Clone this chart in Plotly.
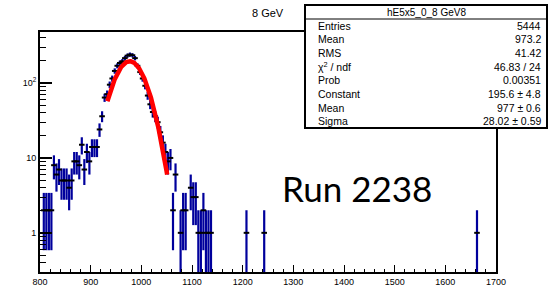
import numpy as np
import plotly.graph_objects as go

# ---- histogram data (bin centres, counts) ----
bin_centers = [807.5, 812.5, 817.5, 822.5, 827.5, 832.5, 837.5, 842.5, 847.5, 852.5,
               857.5, 862.5, 867.5, 872.5, 877.5, 882.5, 887.5, 892.5, 897.5, 902.5,
               907.5, 912.5, 917.5, 922.5, 927.5, 932.5, 937.5, 942.5, 947.5, 952.5,
               957.5, 962.5, 967.5, 972.5, 977.5, 982.5, 987.5, 992.5, 997.5, 1002.5,
               1007.5, 1012.5, 1017.5, 1022.5, 1027.5, 1032.5, 1037.5, 1042.5, 1047.5, 1052.5,
               1057.5, 1062.5, 1067.5, 1077.5, 1082.5, 1087.5, 1097.5, 1102.5, 1107.5, 1112.5,
               1117.5, 1122.5, 1127.5, 1132.5, 1137.5, 1207.5, 1242.5, 1662.5]
counts = [2, 2, 2, 2, 8, 6, 7, 5, 5, 5,
          4, 5, 9, 9, 8, 15, 7, 12, 9, 14,
          14, 14, 24, 36, 64, 71, 95, 115, 145, 170,
          185, 195, 215, 232, 240, 235, 215, 170, 140, 115,
          92, 68, 52, 41, 36, 30, 22, 16, 12, 9,
          10, 2, 6, 1, 2, 2, 4, 3, 3, 1,
          1, 2, 1, 1, 1, 1, 1, 1]

# ---- Gaussian fit parameters (from stats box) ----
fit_const = 195.6
fit_mean = 977.0
fit_sigma = 28.02
fit_range = [933, 1051]

stats_title = "hE5x5_0_8 GeV8"
stats_labels = ["Entries", "Mean", "RMS", "\u03c7<sup>2</sup> / ndf", "Prob", "Constant", "Mean", "Sigma"]
stats_values = ["5444", "973.2", "41.42", "46.83 / 24", "0.00351", "195.6 \u00b1 4.8", "977 \u00b1 0.6", "28.02 \u00b1 0.59"]

x_ticks = [800, 900, 1000, 1100, 1200, 1300, 1400, 1500, 1600, 1700]
y_ticks = [1, 10, 100]
y_ticktext = ["1", "10", "10<sup>2</sup>"]
y_minor = [0.3, 0.4, 0.5, 0.6, 0.7, 0.8, 0.9, 2, 3, 4, 5, 6, 7, 8, 9,
           20, 30, 40, 50, 60, 70, 80, 90, 200, 300, 400]

cnt = np.array(counts, dtype=float)
err = np.sqrt(cnt)
err_lo = np.minimum(err, cnt - 1e-4)

fig = go.Figure()
fig.add_trace(go.Scatter(
    x=bin_centers, y=counts, mode="markers",
    marker=dict(symbol="line-ew", size=4, color="black", line=dict(width=2, color="black")),
    error_y=dict(type="data", symmetric=False, array=err, arrayminus=err_lo,
                 color="#00009c", thickness=2.2, width=0),
    showlegend=False, hoverinfo="skip"))

xf = np.linspace(fit_range[0], fit_range[1], 200)
yf = fit_const * np.exp(-0.5 * ((xf - fit_mean) / fit_sigma) ** 2)
fig.add_trace(go.Scatter(x=xf, y=yf, mode="lines", line=dict(color="#ff0000", width=4.5),
                         showlegend=False, hoverinfo="skip"))
# invisible trace to activate minor-tick overlay axis
fig.add_trace(go.Scatter(x=[800], y=[1], yaxis="y2", mode="markers",
                         marker=dict(opacity=0), showlegend=False, hoverinfo="skip"))

yr = [np.log10(0.3), np.log10(480)]
font = "Liberation Sans, Arial, sans-serif"

fig.update_layout(
    width=557, height=286,
    margin=dict(l=40, r=61, t=32, b=14, autoexpand=False),
    paper_bgcolor="white", plot_bgcolor="white",
    font=dict(family=font, size=9, color="black"),
    xaxis=dict(range=[800, 1700], tickvals=x_ticks, ticks="inside", ticklen=7, tickwidth=1,
               tickcolor="black", showline=True, linewidth=2, linecolor="black", mirror=True,
               showgrid=False, zeroline=False, tickfont=dict(size=9), automargin=False,
               minor=dict(dtick=20, tick0=800, ticks="inside", ticklen=3, tickcolor="black", tickwidth=1, showgrid=False)),
    yaxis=dict(type="log", range=yr, tickvals=y_ticks, ticktext=y_ticktext, ticks="inside",
               ticklen=12, tickwidth=1.5, tickcolor="black", showline=True, linewidth=2,
               linecolor="black", mirror=True, showgrid=False, zeroline=False, tickfont=dict(size=9),
               automargin=False),
    yaxis2=dict(type="log", range=yr, overlaying="y", anchor="x", side="left",
                tickvals=y_minor, ticks="inside", ticklen=6, tickwidth=1, tickcolor="black",
                showticklabels=False, showline=False, showgrid=False, zeroline=False, automargin=False),
)

# helpers: page pixel -> paper coordinates (plot area spans x 40..496, y 32..272)
def px(xp):
    return (xp - 40) / 456
def py(yp):
    return (272 - yp) / 240

# title
fig.add_annotation(text="8 GeV", xref="paper", yref="paper", x=0.5, y=py(13),
                   showarrow=False, font=dict(size=11, family=font), xanchor="center", yanchor="middle")

# stats box
bx0, bx1, by0, by1, bsep = 305, 547, 5, 128, 19
fig.add_shape(type="rect", xref="paper", yref="paper", x0=px(bx0), x1=px(bx1), y0=py(by1), y1=py(by0),
              line=dict(color="black", width=2), fillcolor="white", layer="above")
fig.add_shape(type="line", xref="paper", yref="paper", x0=px(bx0), x1=px(bx1), y0=py(bsep), y1=py(bsep),
              line=dict(color="black", width=1), layer="above")
fig.add_annotation(text=stats_title, xref="paper", yref="paper", x=px((bx0 + bx1) / 2), y=py((by0 + bsep) / 2),
                   showarrow=False, font=dict(size=10, family=font), xanchor="center", yanchor="middle")
row_h = (by1 - bsep) / len(stats_labels)
for i, (lab, val) in enumerate(zip(stats_labels, stats_values)):
    yc = bsep + row_h * (i + 0.5)
    fig.add_annotation(text=lab, xref="paper", yref="paper", x=px(bx0 + 11), y=py(yc),
                       showarrow=False, font=dict(size=10.5, family=font), xanchor="left", yanchor="middle")
    fig.add_annotation(text=val, xref="paper", yref="paper", x=px(bx1 - 4), y=py(yc),
                       showarrow=False, font=dict(size=10.5, family=font), xanchor="right", yanchor="middle")

# run label
fig.add_annotation(text="Run 2238", xref="paper", yref="paper", x=px(357), y=py(188),
                   showarrow=False, font=dict(size=35, family="Lato, Open Sans, sans-serif"),
                   xanchor="center", yanchor="middle")

# remove the browser's default body margin so the figure sits at the window origin
fig.write_html("out.html", config={"displayModeBar": False},
               post_script="document.body.style.margin='0';document.body.style.padding='0';"
                           "document.documentElement.style.overflow='hidden';")
